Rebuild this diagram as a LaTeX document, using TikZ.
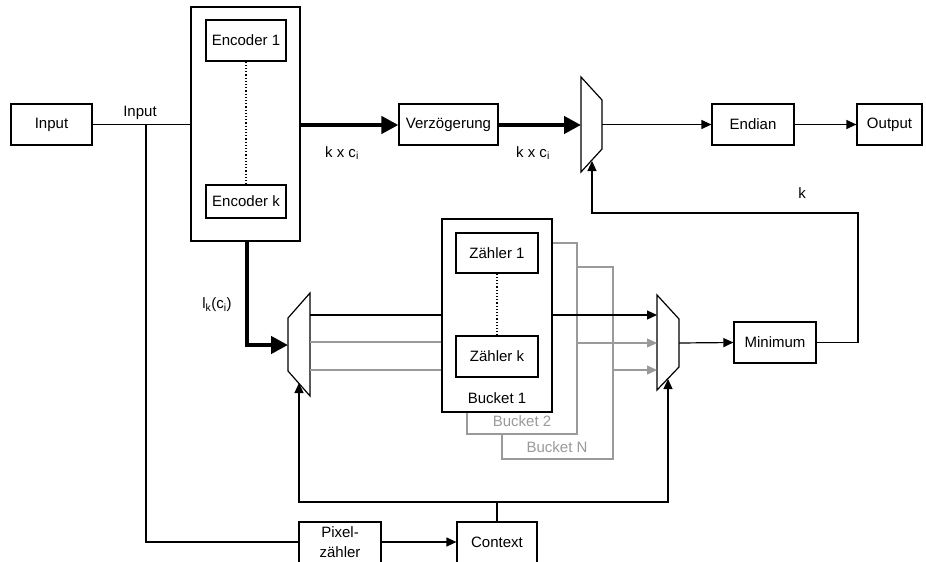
\documentclass[tikz,border=0pt]{standalone}
\usepackage{fontspec}
\setmainfont{Liberation Sans}
\usetikzlibrary{arrows.meta}
\definecolor{lgray}{HTML}{9A9A9A}
\begin{document}
\begin{tikzpicture}[x=1pt,y=-1pt,
  font=\fontsize{15}{17}\selectfont,
  box/.style={draw, line width=1.2pt, fill=white, inner sep=0pt, align=center},
  gbox/.style={draw=lgray, line width=1.2pt, fill=white, inner sep=0pt},
  ln/.style={line width=1.2pt},
  arr/.style={line width=1.2pt, -{Triangle[length=10pt,width=9pt]}},
  garr/.style={line width=1.2pt, draw=lgray, -{Triangle[length=10pt,width=9pt]}},
  thk/.style={line width=4.5pt},
  tarr/.style={line width=4.5pt, -{Triangle[length=17pt,width=17pt]}},
  mux/.style={line width=1.2pt, fill=white, line join=miter}
]
\useasboundingbox (0,0) rectangle (926,562);
\clip (0,0) rectangle (926,562);

% ---- top row boxes
\node[box, minimum width=81pt, minimum height=41pt] (inp) at (51.5,124.5) {Input};
\node[box, minimum width=109pt, minimum height=234pt] (enc) at (245.5,124) {};
\node[box, minimum width=80pt, minimum height=41pt] (enc1) at (246,40.5) {Encoder 1};
\node[box, minimum width=80pt, minimum height=33pt] (enck) at (246,201.5) {Encoder k};
\node[box, minimum width=99pt, minimum height=41pt] (verz) at (448.5,124.5) {Verzögerung};
\node[box, minimum width=82pt, minimum height=41pt] (endian) at (753,124.5) {Endian};
\node[box, minimum width=65pt, minimum height=41pt] (outp) at (889.5,124.5) {Output};
\draw[ln, dotted, line width=1.5pt] (enc1.south) -- (enck.north);

% ---- multiplexers
\coordinate (tm1) at (581,77); \coordinate (tm2) at (602,100);
\coordinate (tm3) at (602,149); \coordinate (tm4) at (581,172);
\draw[mux] (tm1) -- (tm2) -- (tm3) -- (tm4) -- cycle;
\coordinate (tmin) at (581,125); \coordinate (tmout) at (602,124.5);
\coordinate (tmsel) at (592,161);

\coordinate (lm1) at (288,318); \coordinate (lm2) at (310,293);
\coordinate (lm3) at (310,396); \coordinate (lm4) at (288,371);
\draw[mux] (lm1) -- (lm2) -- (lm3) -- (lm4) -- cycle;
\coordinate (lmin) at (288,345); \coordinate (lmsel) at (299,383);

\coordinate (rm1) at (657,295); \coordinate (rm2) at (679,319);
\coordinate (rm3) at (679,367); \coordinate (rm4) at (657,390);
\draw[mux] (rm1) -- (rm2) -- (rm3) -- (rm4) -- cycle;
\coordinate (rmout) at (679,343); \coordinate (rmsel) at (668,379);

% ---- lines from left mux to Bucket 1
\draw[ln] (310,315) -- (442,315);
\draw[ln, draw=lgray] (310,342) -- (442,342);
\draw[ln, draw=lgray] (310,370) -- (442,370);

% ---- buckets
\node[gbox, minimum width=111pt, minimum height=192pt] (bN) at (557.5,363) {};
\node[text=lgray] (bNl) at (557,447) {Bucket N};
\node[gbox, minimum width=110pt, minimum height=191pt] (b2) at (522,338.5) {};
\node[text=lgray] (b2l) at (522,421) {Bucket 2};
\node[box, minimum width=110pt, minimum height=193pt] (b1) at (497,315.5) {};
\node (b1l) at (497,398) {Bucket 1};
\node[box, minimum width=82pt, minimum height=40pt] (z1) at (497,253) {Zähler 1};
\node[box, minimum width=82pt, minimum height=41pt] (zk) at (497,356.5) {Zähler k};
\draw[ln, dotted, line width=1.5pt] (z1.south) -- (zk.north);

% ---- lower boxes
\node[box, minimum width=82pt, minimum height=41pt] (mini) at (775,342.5) {Minimum};
\node[box, minimum width=82pt, minimum height=46pt] (pix) at (340,545) {};
\node (pixl) at (340,532) {Pixel-};
\node (pixl2) at (340,552) {zähler};
\node[box, minimum width=80pt, minimum height=46pt] (ctx) at (497,545) {};
\node (ctxl) at (497,542) {Context};

% ---- connectors top
\draw[ln] (inp.east) -- (enc.west |- inp.east);
\node (inlab) at (140,113) {Input};
\draw[ln] (146,124.5) -- (146,542) -- (pix.west |- 0,542);
\draw[tarr] (enc.east |- 0,125) -- (verz.west |- 0,125);
\node (kc1) at (342,153) {k x c\textsubscript{i}};
\draw[tarr] (verz.east |- 0,125) -- (tmin);
\node (kc2) at (533,153) {k x c\textsubscript{i}};
\draw[arr] (tmout) -- (endian.west);
\draw[arr] (endian.east) -- (outp.west);

% ---- feedback k
\draw[arr] (mini.east) -| (858,213) -| (tmsel);
\node (klab) at (802,193) {k};

% ---- encoder to left mux
\draw[thk] (247,241) -- (247,345) -- (258,345);
\draw[tarr] (252,345) -- (lmin);
\node (lkc) at (217,305) {l\textsubscript{k}(c\textsubscript{i})};

% ---- buckets to right mux
\draw[arr] (b1.east |- 0,315) -- (657,315);
\draw[garr] (b2.east |- 0,343) -- (657,343);
\draw[garr] (bN.east |- 0,370) -- (657,370);
\draw[arr] (rmout) -- (mini.west);

% ---- bottom
\draw[arr] (pix.east |- 0,542) -- (ctx.west |- 0,542);
\draw[ln] (ctx.north) -- (497,502);
\draw[arr] (497,502) -| (lmsel);
\draw[arr] (497,502) -| (rmsel);
\end{tikzpicture}
\end{document}
